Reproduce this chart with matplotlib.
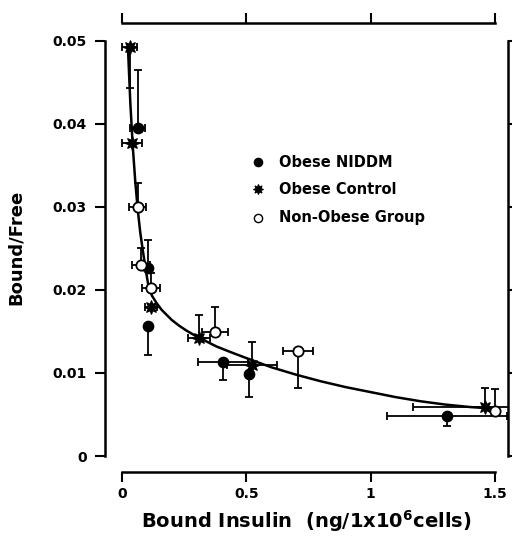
import matplotlib.pyplot as plt

plt.rcParams['font.family'] = ['DejaVu Sans']
plt.rcParams['font.weight'] = 'bold'
plt.rcParams['mathtext.default'] = 'bf'

# Obese NIDDM (filled circles)
niddm_x = [0.064, 0.105, 0.105, 0.406, 0.51, 1.307]
niddm_y = [0.0395, 0.0226, 0.0157, 0.0113, 0.0099, 0.0048]
niddm_xerr = [0.03, 0.0, 0.0, 0.10, 0.0, 0.24]
niddm_ylo = [0.0, 0.0, 0.0035, 0.0021, 0.0028, 0.0012]
niddm_yhi = [0.0070, 0.0034, 0.0, 0.0, 0.0, 0.0]

# Obese Control (stars)
ctrl_x = [0.032, 0.040, 0.117, 0.31, 0.523, 1.46]
ctrl_y = [0.0493, 0.0377, 0.0180, 0.0142, 0.0110, 0.0059]
ctrl_xerr = [0.03, 0.04, 0.025, 0.045, 0.10, 0.29]
ctrl_ylo = [0.0050, 0.0, 0.0, 0.0, 0.0, 0.0]
ctrl_yhi = [0.0, 0.0, 0.0, 0.0028, 0.0027, 0.0023]

# Non-Obese Group (open circles)
non_x = [0.064, 0.076, 0.117, 0.374, 0.707, 1.50]
non_y = [0.0300, 0.0230, 0.0202, 0.0149, 0.0127, 0.0054]
non_xerr = [0.035, 0.036, 0.036, 0.053, 0.06, 0.0]
non_ylo = [0.0, 0.0, 0.0, 0.0, 0.0045, 0.0]
non_yhi = [0.0029, 0.0020, 0.0018, 0.0031, 0.0, 0.0027]

# fitted curve
curve_x = [0.024, 0.034, 0.044, 0.054, 0.064, 0.074, 0.084, 0.095, 0.105, 0.121,
           0.14, 0.16, 0.18, 0.20, 0.23, 0.26, 0.30, 0.34, 0.38, 0.43, 0.50,
           0.60, 0.70, 0.80, 0.90, 1.00, 1.10, 1.20, 1.30, 1.40, 1.50]
curve_y = [0.0495, 0.0425, 0.0372, 0.0330, 0.0296, 0.0269, 0.0248, 0.0226, 0.0208, 0.0193,
           0.0184, 0.0176, 0.0170, 0.0164, 0.0157, 0.0151, 0.0144, 0.0138, 0.0132, 0.0126, 0.0118,
           0.0107, 0.0098, 0.0090, 0.0083, 0.0077, 0.0071, 0.0066, 0.0062, 0.0059, 0.0057]

fig = plt.figure(figsize=(5.12, 5.42), dpi=100)
ax = fig.add_axes([0.205, 0.129, 0.787, 0.829])

ax.plot(curve_x, curve_y, color='black', lw=1.8, zorder=2)

err_kw = dict(fmt='none', ecolor='black', elinewidth=1.3, capsize=3, capthick=1.3, zorder=3)
ax.errorbar(niddm_x, niddm_y, xerr=niddm_xerr, yerr=[niddm_ylo, niddm_yhi], **err_kw)
ax.errorbar(ctrl_x, ctrl_y, xerr=ctrl_xerr, yerr=[ctrl_ylo, ctrl_yhi], **err_kw)
ax.errorbar(non_x, non_y, xerr=non_xerr, yerr=[non_ylo, non_yhi], **err_kw)

ax.scatter(niddm_x, niddm_y, s=55, c='black', marker='o', zorder=4)
ax.scatter(ctrl_x, ctrl_y, s=90, c='black', marker=(8, 1, 0), zorder=4)
ax.scatter(non_x, non_y, s=55, facecolors='white', edgecolors='black',
           linewidths=1.3, marker='o', zorder=4)

# legend drawn as markers + text
leg_x = 0.547
leg_tx = 0.63
leg_y = [0.0354, 0.0321, 0.0287]
ax.scatter([leg_x], [leg_y[0]], s=35, c='black', marker='o')
ax.scatter([leg_x], [leg_y[1]], s=45, c='black', marker=(8, 1, 0))
ax.scatter([leg_x], [leg_y[2]], s=35, facecolors='white', edgecolors='black',
           linewidths=1.0, marker='o')
for lab, yy in zip(['Obese NIDDM', 'Obese Control', 'Non-Obese Group'], leg_y):
    ax.text(leg_tx, yy, lab, fontsize=10.5, va='center')

ax.set_xlim(-0.068, 1.552)
ax.set_ylim(-0.00193, 0.05217)

for s in ax.spines.values():
    s.set_linewidth(1.8)
ax.spines['left'].set_bounds(0, 0.05)
ax.spines['right'].set_bounds(0, 0.05)
ax.spines['top'].set_bounds(0, 1.5)
ax.spines['bottom'].set_bounds(0, 1.5)

ax.set_xticks([0, 0.5, 1, 1.5])
ax.set_xticklabels(['0', '0.5', '1', '1.5'])
ax.set_yticks([0, 0.01, 0.02, 0.03, 0.04, 0.05])
ax.set_yticklabels(['0', '0.01', '0.02', '0.03', '0.04', '0.05'])
ax.tick_params(direction='out', length=7, width=1.5, labelsize=10,
               top=True, right=True, labelright=False, labeltop=False)
ax.tick_params(axis='x', pad=4)
ax.tick_params(axis='y', pad=6)

ax.set_xlabel('Bound Insulin  (ng/1x10$^6$cells)', fontsize=14,
              fontweight='bold', labelpad=5)
ax.set_ylabel('Bound/Free', fontsize=13, fontweight='bold', labelpad=20)

plt.savefig('out.png', dpi=100)
